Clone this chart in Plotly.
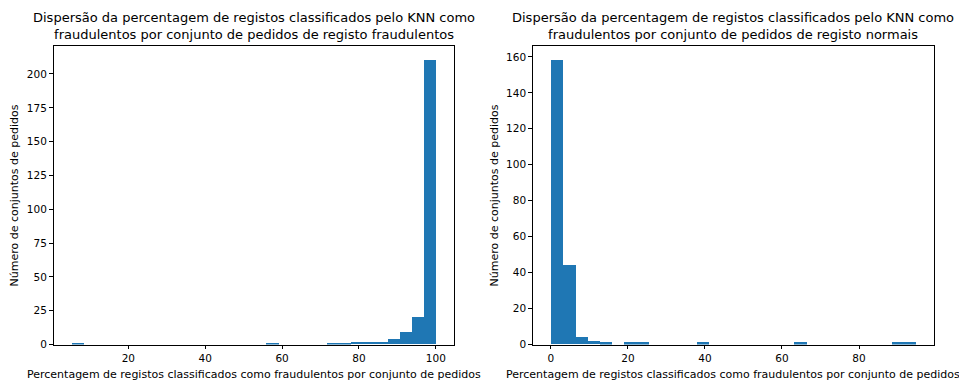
import numpy as np
import plotly.graph_objects as go

# ---- data (histogram counts, 30 bins each) ----
fraud_counts = [1, 0, 0, 0, 0, 0, 0, 0, 0, 0,
                0, 0, 0, 0, 0, 0, 1, 0, 0, 0,
                0, 1, 1, 2, 2, 2, 4, 9, 20, 210]
fraud_range = [5.26, 100.0]

normal_counts = [158, 44, 4, 2, 1, 0, 1, 1, 0, 0,
                 0, 0, 1, 0, 0, 0, 0, 0, 0, 0,
                 1, 0, 0, 0, 0, 0, 0, 0, 1, 1]
normal_range = [0.0, 94.74]

titles = ["Dispersão da percentagem de registos classificados pelo KNN como<br>fraudulentos por conjunto de pedidos de registo fraudulentos",
          "Dispersão da percentagem de registos classificados pelo KNN como<br>fraudulentos por conjunto de pedidos de registo normais"]
xlabel = "Percentagem de registos classificados como fraudulentos por conjunto de pedidos"
ylabel = "Número de conjuntos de pedidos"
left_yticks = [0, 25, 50, 75, 100, 125, 150, 175, 200]
right_yticks = [0, 20, 40, 60, 80, 100, 120, 140, 160]
left_xticks = [20, 40, 60, 80, 100]
right_xticks = [0, 20, 40, 60, 80]

W, H = 959, 385
FONT = "DejaVu Sans"
BLUE = "#1f77b4"

def bars(counts, rng):
    edges = np.linspace(rng[0], rng[1], len(counts) + 1)
    centers = (edges[:-1] + edges[1:]) / 2
    width = edges[1] - edges[0]
    return centers, width

fig = go.Figure()
for i, (counts, rng) in enumerate([(fraud_counts, fraud_range), (normal_counts, normal_range)]):
    c, w = bars(counts, rng)
    fig.add_trace(go.Bar(x=c, y=counts, width=w, marker_color=BLUE,
                         marker_line_width=0, showlegend=False,
                         xaxis="x" if i == 0 else "x2",
                         yaxis="y" if i == 0 else "y2"))

def xr(rng):
    span = rng[1] - rng[0]
    return [rng[0] - 0.05 * span, rng[1] + 0.05 * span]

# domains in pixel terms
lx = [53.5 / W, 454 / W]
rx = [532.7 / W, 934 / W]
yd = [(H - 350) / H, (H - 47) / H]

axis_common = dict(showgrid=False, zeroline=False, showline=True, mirror=True,
                   linecolor="black", linewidth=1, ticks="outside", ticklen=3.5,
                   tickcolor="black", tickfont=dict(family=FONT, size=10.5, color="black"))

fig.update_layout(
    width=W, height=H, margin=dict(l=0, r=0, t=0, b=0),
    paper_bgcolor="white", plot_bgcolor="white",
    font=dict(family=FONT, color="black"),
    bargap=0,
    xaxis=dict(domain=lx, range=xr(fraud_range), tickvals=left_xticks, anchor="y", **axis_common),
    yaxis=dict(domain=yd, range=[0, max(fraud_counts) * 1.05], tickvals=left_yticks, anchor="x", **axis_common),
    xaxis2=dict(domain=rx, range=xr(normal_range), tickvals=right_xticks, anchor="y2", **axis_common),
    yaxis2=dict(domain=yd, range=[0, max(normal_counts) * 1.05], tickvals=right_yticks, anchor="x2", **axis_common),
)

ann = []
for i, dom in enumerate([lx, rx]):
    cx = (dom[0] + dom[1]) / 2
    ann.append(dict(text=titles[i], x=cx, y=(H - 45) / H, xref="paper", yref="paper",
                    xanchor="center", yanchor="bottom", showarrow=False,
                    font=dict(family=FONT, size=13, color="black")))
    ann.append(dict(text=xlabel, x=cx, y=(H - 380) / H, xref="paper", yref="paper",
                    xanchor="center", yanchor="middle", showarrow=False,
                    font=dict(family=FONT, size=11, color="black")))
for xc in [14, 494]:
    ann.append(dict(text=ylabel, x=xc / W, y=(yd[0] + yd[1]) / 2, xref="paper", yref="paper",
                    xanchor="center", yanchor="middle", textangle=-90, showarrow=False,
                    font=dict(family=FONT, size=11, color="black")))
fig.update_layout(annotations=ann)

fig.write_html("out.html")
